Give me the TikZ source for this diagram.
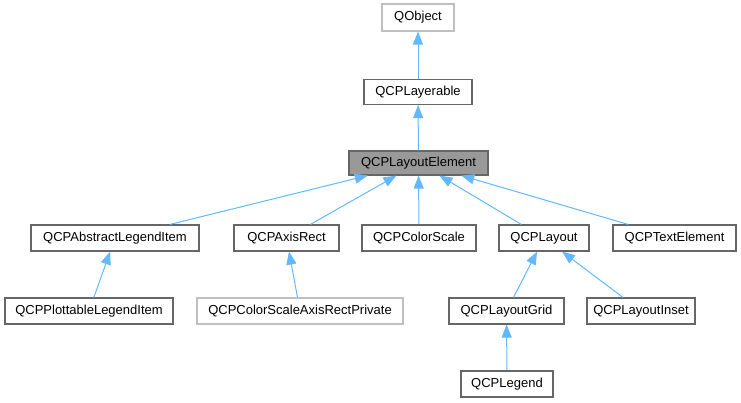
\documentclass[tikz,border=0pt]{standalone}
\usepackage{fontspec}
\setmainfont{Liberation Sans}
\usetikzlibrary{arrows.meta}
\definecolor{edgeblue}{HTML}{63B8FF}
\definecolor{boxgray}{HTML}{666666}
\definecolor{extgray}{HTML}{BFBFBF}
\definecolor{selgray}{HTML}{999999}
\begin{document}
\begin{tikzpicture}[
  x=1pt, y=-1pt,
  cls/.style={draw=boxgray, line width=1.1pt, fill=white, minimum height=26pt, inner sep=0pt, font=\fontsize{13}{15}\selectfont},
  extcls/.style={cls, draw=extgray},
  selcls/.style={cls, fill=selgray},
  inherit/.style={draw=edgeblue, line width=1pt, -{Triangle[length=13pt, width=10pt]}},
]
\useasboundingbox (0,0) rectangle (741,403);
\node[extcls, minimum width=72pt, minimum height=27pt] (qobject) at (418,17.5) {QObject};
\node[cls, minimum width=108pt, minimum height=25pt] (layerable) at (418,92) {QCPLayerable};
\node[selcls, minimum width=139pt, minimum height=24pt] (element) at (418.5,163) {QCPLayoutElement};
\node[cls, minimum width=168pt] (abslegend) at (115,238) {QCPAbstractLegendItem};
\node[cls, minimum width=105pt] (axisrect) at (286.5,238) {QCPAxisRect};
\node[cls, minimum width=114pt] (colorscale) at (419,238) {QCPColorScale};
\node[cls, minimum width=90pt] (layout) at (544,238) {QCPLayout};
\node[cls, minimum width=123pt] (textelem) at (674.5,238) {QCPTextElement};
\node[cls, minimum width=168pt] (plotlegend) at (89,311) {QCPPlottableLegendItem};
\node[extcls, minimum width=206pt] (csaxisrect) at (300,311) {QCPColorScaleAxisRectPrivate};
\node[cls, minimum width=115pt] (grid) at (506.5,311) {QCPLayoutGrid};
\node[cls, minimum width=108pt] (inset) at (641,311) {QCPLayoutInset};
\node[cls, minimum width=92pt] (legend) at (507,384) {QCPLegend};
\draw[inherit] (layerable) -- (qobject);
\draw[inherit] (element) -- (layerable);
\draw[inherit] (abslegend) -- (element);
\draw[inherit] (axisrect) -- (element);
\draw[inherit] (colorscale) -- (element);
\draw[inherit] (layout) -- (element);
\draw[inherit] (textelem) -- (element);
\draw[inherit] (plotlegend) -- (abslegend);
\draw[inherit] (csaxisrect) -- (axisrect);
\draw[inherit] (grid) -- (layout);
\draw[inherit] (inset) -- (layout);
\draw[inherit] (legend) -- (grid);
\end{tikzpicture}
\end{document}
